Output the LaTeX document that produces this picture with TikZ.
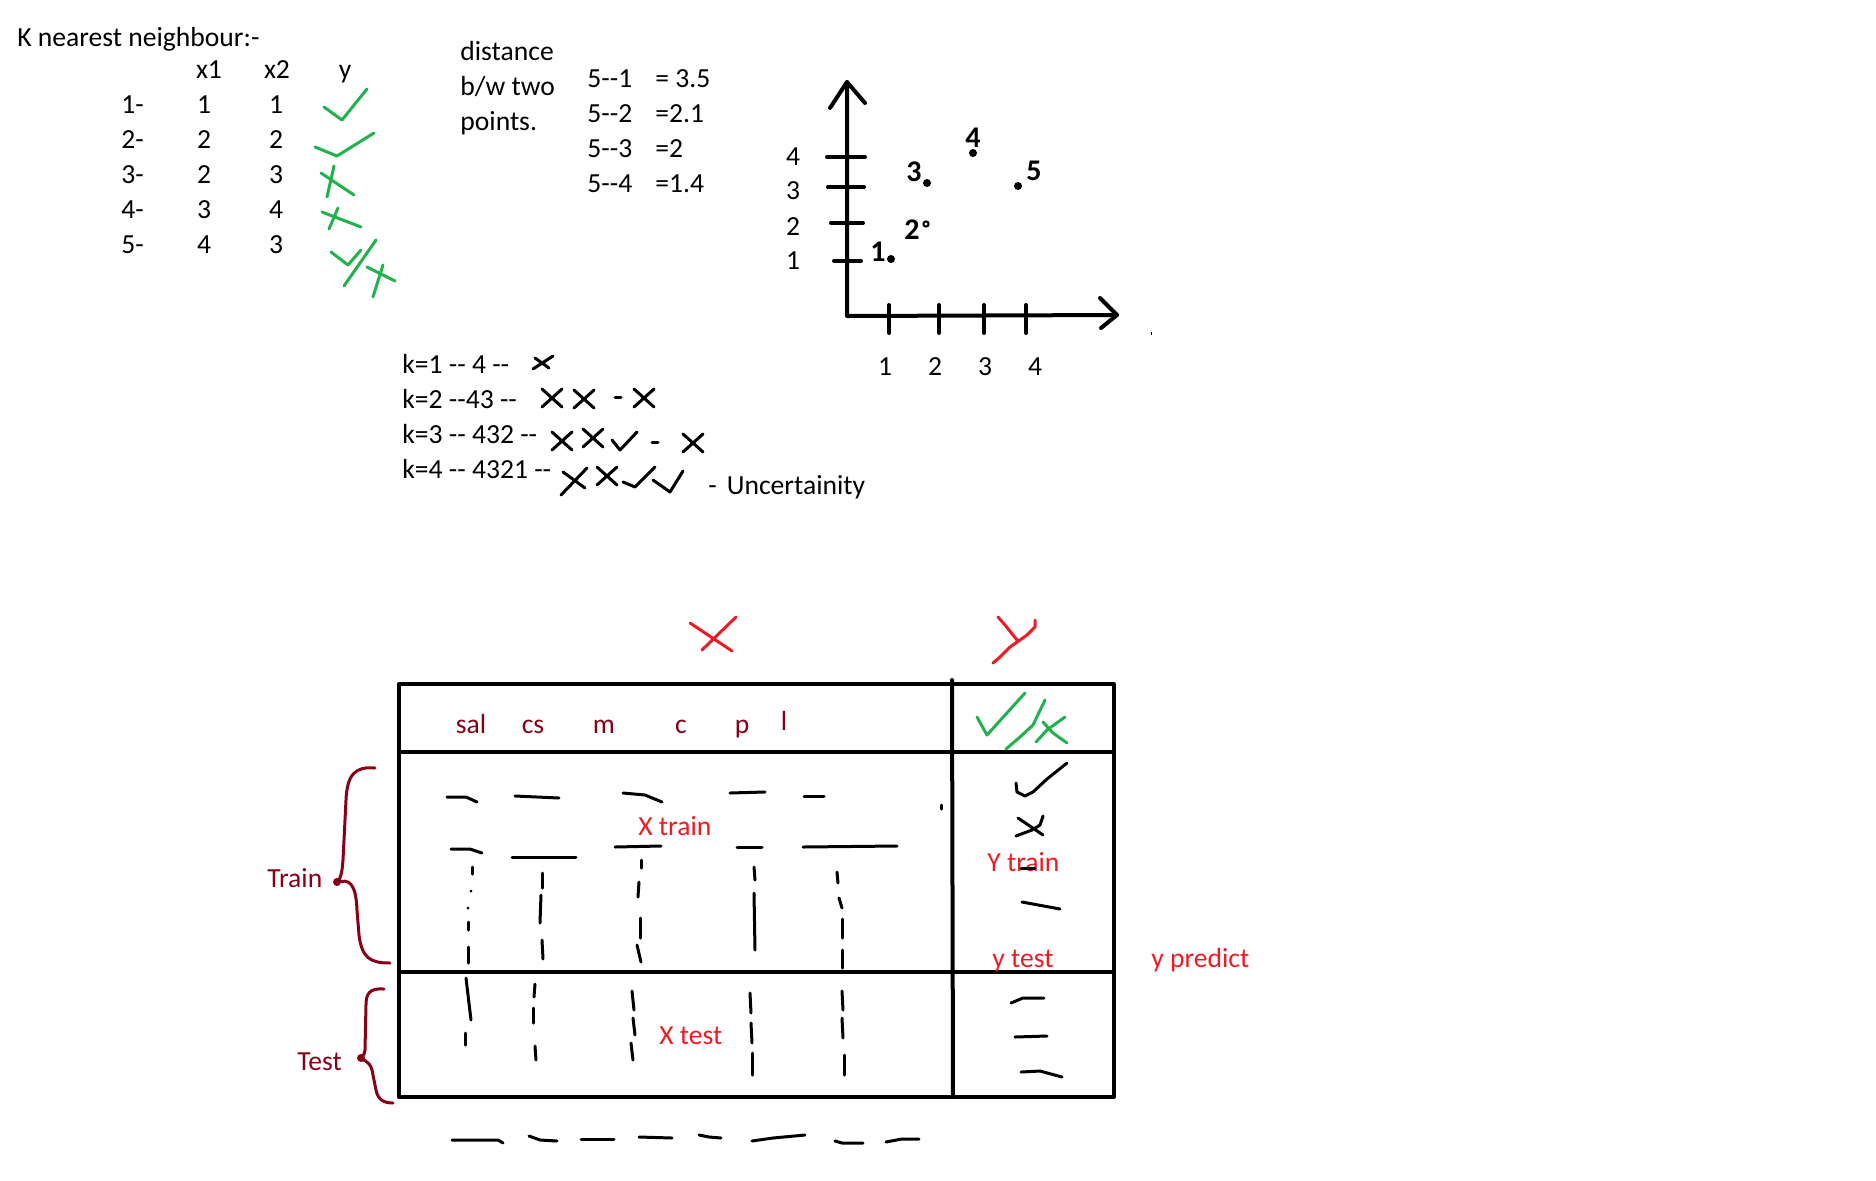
\documentclass[tikz,border=0pt]{standalone}
\usepackage{fontspec}
\setmainfont{Carlito}[Ligatures=TeXOff]
\usepackage{tikz}
\usetikzlibrary{positioning}
\usepackage{xcolor}
\definecolor{paintred}{HTML}{ED1C24}
\definecolor{paintgreen}{HTML}{22B14C}
\definecolor{darkred}{HTML}{880015}

\begin{document}
\begin{tikzpicture}[x=0.5pt,y=-0.5pt,font=\fontsize{13.8}{16}\selectfont,
		txt/.style={inner sep=0pt,anchor=base west},
		num/.style={inner sep=0pt,anchor=base},
		pen/.style={line width=1.5pt,line cap=round,line join=round},
		heavy/.style={line width=2pt,line cap=round,line join=round},
		hand/.style={inner sep=0pt,font=\fontsize{15}{15}\bfseries\selectfont}]
		\useasboundingbox[fill=white] (0,0) rectangle (1876,1180);
		
		% data table
		\node[txt] (title) at (17,46) {K nearest neighbour:-};
		\node[num] (hx1) at (209,78) {x1};
		\node[num] (hx2) at (277,78) {x2};
		\node[num] (hy) at (345,78) {y};
		\foreach \i/\a/\b in {1/1/1,2/2/2,3/2/3,4/3/4,5/4/3} {
			\node[txt] (row\i) at (121,78+35*\i) {\i-};
			\node[num] (xa\i) at (204,78+35*\i) {\a};
			\node[num] (xb\i) at (276,78+35*\i) {\b};
		}
		\draw[pen,paintgreen] (324,107) -- (342,120) -- (367,89);
		\draw[pen,paintgreen] (315,147) -- (337,156) -- (374,133);
		\draw[pen,paintgreen] (334,166) -- (327,197) (321,173) -- (354,195);
		\draw[pen,paintgreen] (338,208) -- (329,229) (322,212) -- (361,227);
		\draw[pen,paintgreen] (331,252) -- (348,265) -- (361,250) (376,240) -- (344,286)
		(383,265) -- (373,297) (367,267) -- (395,281);
		
		% distances
		\node[txt] (dist) at (460,60) {distance};
		\node[txt] (bw) at (460,95) {b/w two};
		\node[txt] (pts) at (460,130) {points.};
		\foreach \i/\d in {1/= 3.5,2/=2.1,3/=2,4/=1.4} {
			\node[txt] (pair\i) at (587,52+35*\i) {5--\i};
			\node[txt] (val\i) at (655,52+35*\i) {\d};
		}
		
		% graph
		\coordinate (origin) at (847,316);
		\coordinate (ytop) at (847,82);
		\coordinate (xend) at (1117,315);
		\draw[heavy] (ytop) -- (origin) -- (xend);
		\draw[heavy] (830,108) -- (ytop) -- (865,103);
		\draw[heavy] (1100,298) -- (xend) -- (1101,328);
		\foreach \y/\l/\r in {157/827/865,187/828/864,223/831/863,261/834/861}
		\draw[heavy] (\l,\y) -- (\r,\y);
		\foreach \x in {889,939,984,1026}
		\draw[heavy] (\x,305) -- (\x,333);
		\foreach \n/\y in {4/165,3/199,2/235,1/269}
		\node[num] (ylab\n) at (793,\y) {\n};
		\foreach \n/\x in {1/885,2/935,3/985,4/1035}
		\node[num] (xlab\n) at (\x,375) {\n};
		\node[hand] (p1) at (878,252) {1};
		\node[hand] (p2) at (912,230) {2};
		\node[hand] (p3) at (914,172) {3};
		\node[hand] (p4) at (973,138) {4};
		\node[hand] (p5) at (1034,171) {5};
		\fill (891,259) circle[radius=2pt] (927,183) circle[radius=2pt]
		(973,153) circle[radius=2pt] (1018,186) circle[radius=2pt];
		\draw[line width=1pt] (926,224) circle[radius=1.3pt];
		\fill (1151,332) rectangle (1152,335);
		
		% k values
		\node[txt] (k1) at (402,373) {k=1 -- 4 --};
		\node[txt] (k2) at (402,408) {k=2 --43 --};
		\node[txt] (k3) at (402,443) {k=3 -- 432 --};
		\node[txt] (k4) at (402,478) {k=4 -- 4321 --};
		\draw[pen] (533,369) -- (553,356) (535,358) -- (549,368);
		\foreach \cx/\cy in {552/398,584/399,644/398,562/441,593/438,693/443,607/476}
		\draw[pen] (\cx-10,\cy-9) -- (\cx+10,\cy+9) (\cx+10,\cy-9) -- (\cx-10,\cy+9);
		\draw[pen] (561,495) -- (587,468) (563,472) -- (585,488);
		\draw[pen] (615,397) -- (621,397) (652,442) -- (658,442);
		\draw[pen] (612,440) -- (620,450) -- (637,432);
		\draw[pen] (623,482) -- (635,487) -- (655,467);
		\draw[pen] (653,480) -- (670,492) -- (683,471);
		\node[txt] (unc) at (708,494) {-\hspace{5pt}Uncertainity};
		
		% split table
		\coordinate (tl) at (399,684);
		\coordinate (br) at (1114,1097);
		\coordinate (dtop) at (952,680);
		\coordinate (dbot) at (953,1097);
		\draw[heavy] (tl) rectangle (br);
		\draw[heavy] (399,752) -- (1114,752);
		\draw[heavy] (399,972) -- (1114,972);
		\draw[heavy] (dtop) -- (dbot);
		\draw[pen,paintred] (690,623) -- (732,651) (736,617) -- (702,650);
		\draw[pen,paintred] (998,617) -- (1005,625) -- (1017,640)
		(1035,620) -- (1035,627) -- (1027,635) -- (1010,647) -- (1000,657) -- (993,663);
		\foreach \n/\x in {sal/471,cs/533,m/604,c/681,p/742}
		\node[num,darkred] (col\n) at (\x,733) {\n};
		\node[num,darkred] (coll) at (784,730) {l};
		\draw[pen,paintgreen] (977,717) -- (987,735) -- (1025,693)
		(1045,700) -- (1033,725) -- (1020,737) -- (1006,749)
		(1065,717) -- (1047,730) -- (1036,742) (1043,722) -- (1053,733) -- (1067,743);
		
		% rows of values
		\draw[pen] (447,797) -- (466,797) -- (477,802);
		\draw[pen] (515,796) -- (559,798);
		\draw[pen] (623,793) -- (645,795) -- (662,802);
		\draw[pen] (730,793) -- (765,792);
		\draw[pen] (804,796) -- (824,796);
		\draw[pen] (941,805) -- (941,809);
		\draw[pen] (451,849) -- (470,849) -- (482,853);
		\draw[pen] (512,857) -- (576,857);
		\draw[pen] (615,847) -- (661,846);
		\draw[pen] (737,847) -- (762,847);
		\draw[pen] (803,847) -- (897,846);
		\foreach \xa/\ya/\xb/\yb in {472/867/472/874,471/891/471/891,468/908/468/908,468/922/468/930,468/947/468/963,
			542/873/542/888,541/895/540/923,542/940/543/959,
			641/860/641/868,639/882/638/897,640/918/640/938,637/945/641/962,
			754/867/755/880,754/893/755/950,
			837/872/838/883,839/898/842/908,842/919/842/938,842/950/842/968,
			466/978/471/1020,465/1033/465/1045,
			535/984/534/997,533/1008/533/1023,535/1046/536/1060,
			632/991/634/1010,633/1018/635/1035,631/1043/633/1060,
			750/993/751/1013,751/1023/752/1043,752/1053/752/1075,
			842/991/843/1010,842/1018/843/1038,844/1055/844/1075}
		\draw[pen] (\xa,\ya) -- (\xb,\yb);
		\node[txt,paintred] (xtrain) at (638,835) {X train};
		\node[txt,paintred] (xtest) at (659,1044) {X test};
		
		% y column
		\draw[pen] (1016,783) -- (1017,792) -- (1025,796) -- (1033,792) -- (1047,779) -- (1067,763);
		\draw[pen] (1018,818) -- (1043,835) (1043,816) -- (1040,825) -- (1032,830) -- (1016,836);
		\node[txt,paintred] (ytrain) at (987,871) {Y train};
		\draw[pen] (1021,868) -- (1035,868);
		\draw[pen] (1022,902) -- (1060,909);
		\node[txt,paintred] (ytest) at (992,967) {y test};
		\node[txt,paintred] (ypred) at (1151,967) {y predict};
		\draw[pen] (1011,1003) -- (1023,998) -- (1044,998);
		\draw[pen] (1015,1037) -- (1047,1036);
		\draw[pen] (1021,1072) -- (1040,1071) -- (1062,1077);
		
		% braces
		\draw[pen,darkred] (375,768) .. controls (355,766) and (347,775) .. (346,800) -- (343,860)
		.. controls (342,875) and (340,880) .. (336,883)
		.. controls (350,877) and (356,885) .. (357,910) -- (359,935)
		.. controls (362,958) and (370,963) .. (390,963);
		\fill[darkred] (337,882) circle[radius=2pt];
		\node[txt,darkred] (train) at (267,887) {Train};
		\draw[pen,darkred] (384,989) .. controls (370,988) and (366,993) .. (366,1005) -- (365,1050)
		.. controls (364,1056) and (362,1058) .. (360,1059)
		.. controls (368,1060) and (372,1066) .. (373,1075) -- (376,1090)
		.. controls (378,1100) and (384,1103) .. (393,1103);
		\fill[darkred] (361,1058) circle[radius=2pt];
		\node[txt,darkred] (test) at (297,1070) {Test};
		
		% dashes below
		\draw[pen] (452,1140) -- (498,1140) -- (503,1143);
		\draw[pen] (529,1136) -- (540,1140) -- (557,1141);
		\draw[pen] (581,1139) -- (614,1139);
		\draw[pen] (639,1137) -- (672,1138);
		\draw[pen] (699,1135) -- (709,1137) -- (721,1138);
		\draw[pen] (752,1141) -- (773,1138) -- (805,1135);
		\draw[pen] (835,1141) -- (842,1143) -- (863,1143);
		\draw[pen] (886,1142) -- (902,1139) -- (919,1139);
\end{tikzpicture}
\end{document}
